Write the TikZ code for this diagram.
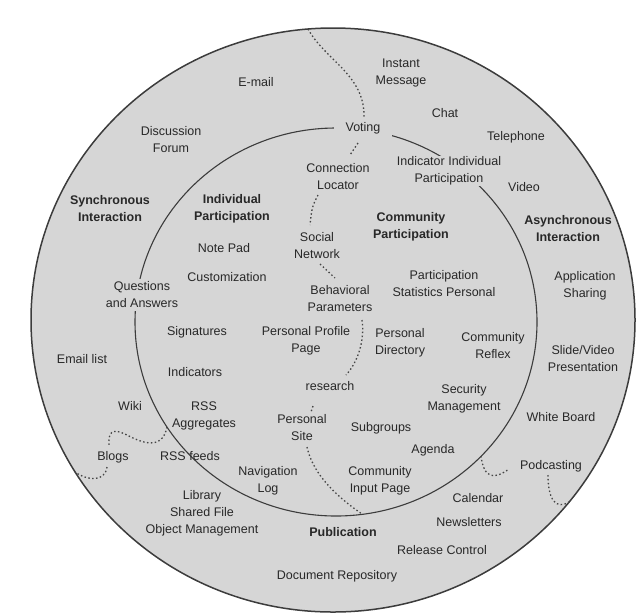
\documentclass[tikz,border=0pt]{standalone}
\usepackage{fontspec}
\setmainfont{Liberation Sans}
\definecolor{bg}{RGB}{214,214,214}
\definecolor{txt}{RGB}{40,40,40}
\definecolor{linec}{RGB}{60,60,60}
\definecolor{dotc}{RGB}{70,70,70}
\begin{document}
\begin{tikzpicture}[x=1pt,y=-1pt,
  lbl/.style={font=\fontsize{12.5}{17}\selectfont, text=txt, align=center, inner sep=1pt},
  bold/.style={lbl, font=\fontsize{12.5}{17}\selectfont\bfseries},
  mask/.style={fill=bg},
  ring/.style={draw=linec, line width=1.3pt},
  dotline/.style={draw=dotc, line width=1.3pt, dash pattern=on 1.5pt off 2.4pt}]
\useasboundingbox (0,0) rectangle (636,614);
% outer disc
\filldraw[ring, fill=bg, line width=1.5pt] (333,320) ellipse [x radius=302, y radius=292];
% inner ring
\draw[ring, line width=1.1pt] (336,322) ellipse [x radius=201, y radius=194];
% points on the rings
\coordinate (o1) at (308,29);
\coordinate (o2) at (75,472);
\coordinate (o3) at (569,502);
\coordinate (i1) at (362,514);
\coordinate (i2) at (167,427);
\coordinate (i3) at (481,456);
% labels
\node[lbl] (email) at (256,82) {E-mail};
\node[lbl] (forum) at (171,140) {Discussion\\Forum};
\node[bold] (sync) at (110,209) {Synchronous\\Interaction};
\node[bold] (indiv) at (232,209) {Individual\\Participation};
\node[lbl] (notepad) at (224,248) {Note Pad};
\node[lbl] (custom) at (227,277) {Customization};
\node[lbl,mask,inner sep=3pt] (qa) at (142,295) {Questions\\and Answers};
\node[lbl] (instant) at (401,73) {Instant\\Message};
\node[lbl,mask,inner xsep=12pt,inner ysep=5pt] (voting) at (363,128) {Voting};
\node[lbl] (chat) at (445,113) {Chat};
\node[lbl] (phone) at (516,137) {Telephone};
\node[lbl] (conn) at (338,177) {Connection\\Locator};
\node[lbl,mask] (indic) at (449,171) {Indicator Individual\\Participation};
\node[lbl] (video) at (524,187) {Video};
\node[bold] (comm) at (411,227) {Community\\Participation};
\node[bold] (async) at (568,229) {Asynchronous\\Interaction};
\node[lbl] (social) at (317,246) {Social\\Network};
\node[lbl] (stats) at (444,284) {Participation\\Statistics Personal};
\node[lbl] (appshare) at (585,286) {Application\\Sharing};
\node[lbl] (behav) at (340,299) {Behavioral\\Parameters};
\node[lbl] (sign) at (197,332) {Signatures};
\node[lbl] (profile) at (306,341) {Personal Profile\\Page};
\node[lbl] (pdir) at (400,343) {Personal\\Directory};
\node[lbl] (reflex) at (493,346) {Community\\Reflex};
\node[lbl] (slide) at (583,359) {Slide/Video\\Presentation};
\node[lbl] (elist) at (82,359) {Email list};
\node[lbl] (indicators) at (195,372) {Indicators};
\node[lbl] (research) at (330,386) {research};
\node[lbl] (security) at (464,399) {Security\\Management};
\node[lbl] (white) at (561,417) {White Board};
\node[lbl] (wiki) at (130,406) {Wiki};
\node[lbl] (rssagg) at (204,416) {RSS\\Aggregates};
\node[lbl] (psite) at (302,428) {Personal\\Site};
\node[lbl] (subgroups) at (381,428) {Subgroups};
\node[lbl] (agenda) at (433,450) {Agenda};
\node[lbl] (blogs) at (113,457) {Blogs};
\node[lbl] (rssfeeds) at (190,456) {RSS feeds};
\node[lbl] (podcast) at (551,466) {Podcasting};
\node[lbl] (navlog) at (268,481) {Navigation\\Log};
\node[lbl] (cinput) at (380,481) {Community\\Input Page};
\node[lbl] (calendar) at (478,498) {Calendar};
\node[lbl] (library) at (202,513) {Library\\Shared File\\Object Management};
\node[bold] (pub) at (343,532) {Publication};
\node[lbl] (news) at (469,522) {Newsletters};
\node[lbl] (release) at (442,550) {Release Control};
\node[lbl] (docrepo) at (337,576) {Document Repository};
% dotted connectors
\draw[dotline] (o1) .. controls (325,60) and (365,75) .. ([shift={(1,-11)}]voting.center);
\draw[dotline] ([shift={(-5,15)}]voting.center) -- ([shift={(12,-22)}]conn.center);
\draw[dotline] ([shift={(-20,18)}]conn.center) .. controls (312,207) .. ([shift={(-7,-21)}]social.center);
\draw[dotline] ([shift={(3,18)}]social.center) -- ([shift={(-5,-21)}]behav.center);
\draw[dotline] ([shift={(22,21)}]behav.center) .. controls (365,340) and (358,362) .. ([shift={(16,-11)}]research.center);
\draw[dotline] ([shift={(-17,20)}]research.center) -- ([shift={(9,-16)}]psite.center);
\draw[dotline] ([shift={(5,19)}]psite.center) .. controls (312,470) and (330,492) .. (i1);
\draw[dotline] (i2) .. controls (162,452) and (140,442) .. (125,434) .. controls (112,428) and (108,432) .. ([shift={(-4,-11)}]blogs.center);
\draw[dotline] ([shift={(-6,10)}]blogs.center) .. controls (105,482) and (88,481) .. (o2);
\draw[dotline] (i3) .. controls (484,480) and (495,479) .. ([shift={(-42,3)}]podcast.center);
\draw[dotline] ([shift={(-3,9)}]podcast.center) .. controls (548,500) and (556,510) .. (o3);
\end{tikzpicture}
\end{document}
